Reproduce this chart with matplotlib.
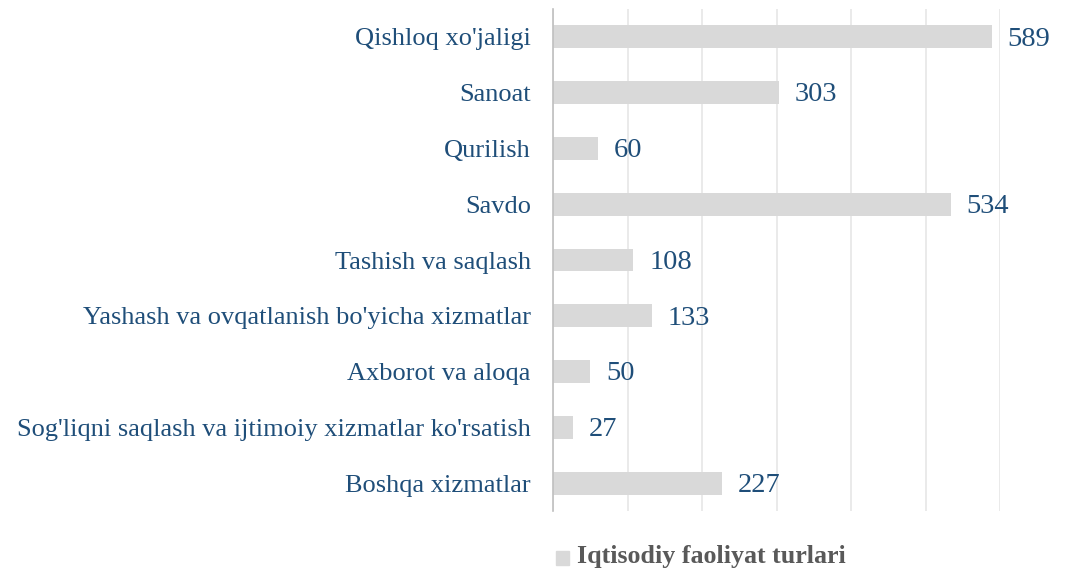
import matplotlib.pyplot as plt
from matplotlib.patches import Rectangle

plt.rcParams['font.family'] = ['Liberation Serif', 'DejaVu Serif']

categories = ["Qishloq xo'jaligi", "Sanoat", "Qurilish", "Savdo", "Tashish va saqlash",
              "Yashash va ovqatlanish bo'yicha xizmatlar", "Axborot va aloqa",
              "Sog'liqni saqlash va ijtimoiy xizmatlar ko'rsatish", "Boshqa xizmatlar"]
values = [589, 303, 60, 534, 108, 133, 50, 27, 227]
series_name = "Iqtisodiy faoliyat turlari"

text_color = '#1f4e79'
bar_color = '#d9d9d9'

fig = plt.figure(figsize=(10.72, 5.72), dpi=100)
ax = fig.add_axes([553 / 1072, 1 - 511 / 572, (1000 - 553) / 1072, (511 - 9) / 572])

ypos = list(range(len(categories)))
ax.barh(ypos, values, height=0.41, color=bar_color, zorder=2)
for y, v in zip(ypos, values):
    ax.text(v + 21, y + 0.04, str(v), va='center', ha='left', fontsize=20.5, color=text_color)

ax.set_xlim(0, 600)
ax.set_ylim(len(categories) - 0.5, -0.5)
ax.set_xticks(range(0, 601, 100))
ax.set_xticklabels([])
ax.tick_params(axis='x', length=0)
ax.grid(axis='x', color='#e6e6e6', linewidth=1.2, zorder=0)
ax.set_yticks(ypos)
ax.set_yticklabels(categories, fontsize=19, color=text_color)
ax.tick_params(axis='y', length=0, pad=16)
for s in ['top', 'right', 'bottom']:
    ax.spines[s].set_visible(False)
ax.spines['left'].set_color('#bfbfbf')
ax.spines['left'].set_linewidth(1.2)

# legend
fig.patches.append(Rectangle((556 / 1072, 1 - 565 / 572), 13 / 1072, 14 / 572,
                             transform=fig.transFigure, color=bar_color))
fig.text(577 / 1072, 1 - 556 / 572, series_name, fontsize=18.7, fontweight='bold',
         color='#595959', va='center', ha='left')

fig.savefig('out.png', dpi=100)
